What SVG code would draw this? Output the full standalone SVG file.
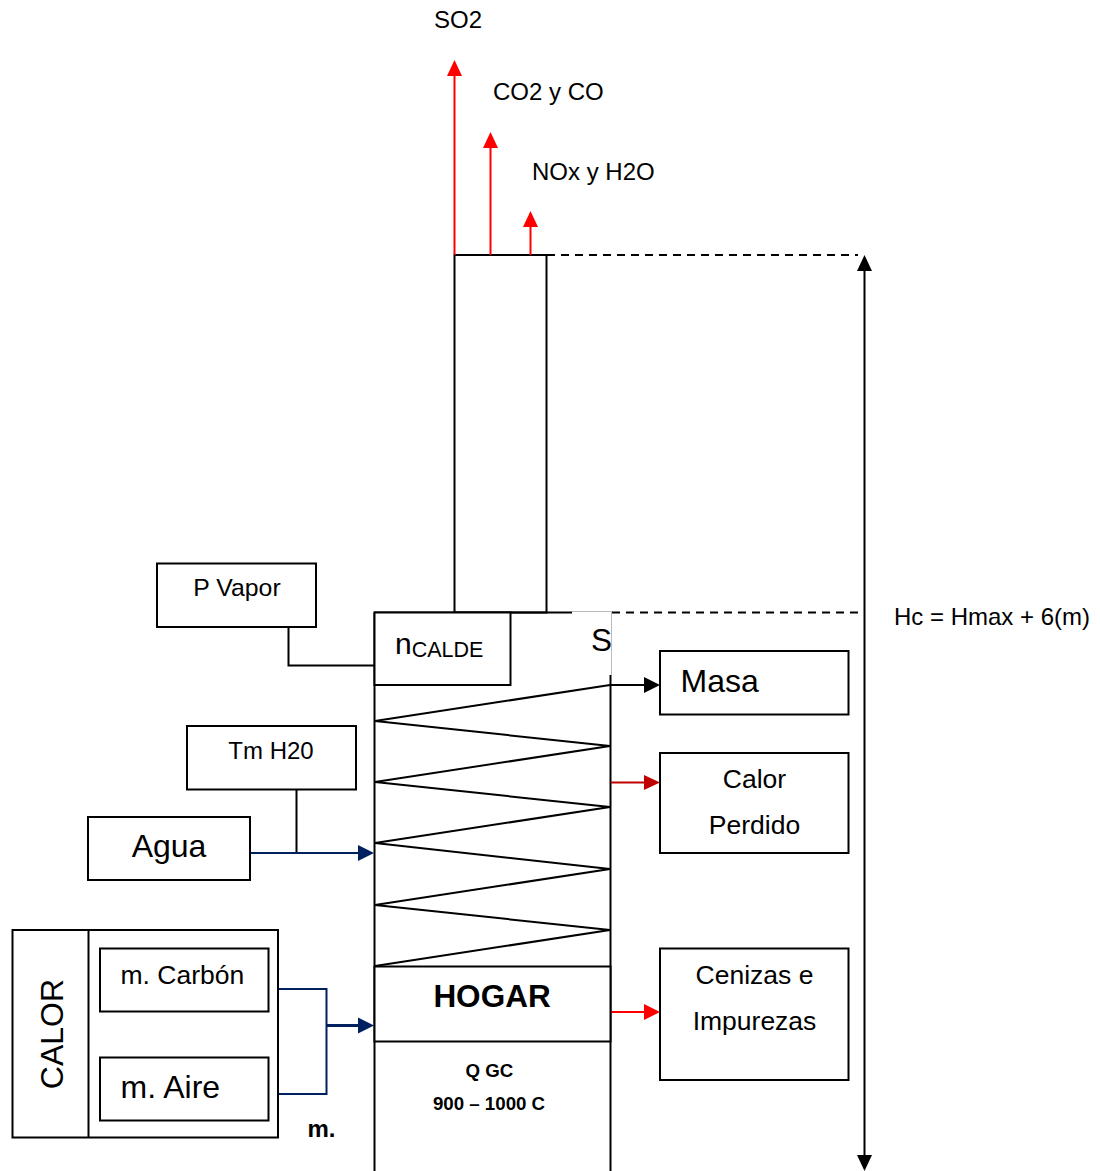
<svg xmlns="http://www.w3.org/2000/svg" width="1100" height="1171" viewBox="0 0 1100 1171">
<style>
text{font-family:"Liberation Sans",Arial,sans-serif;fill:#000}
.b{fill:#fff;stroke:#000;stroke-width:2}
.l{fill:none;stroke:#000;stroke-width:2}
.t{font-size:24px}.u{font-size:26.5px}.m{font-size:32px}
.r{fill:none;stroke:#f00;stroke-width:2}
.n{fill:none;stroke:#002060;stroke-width:2}
.d{fill:none;stroke:#000;stroke-width:2;stroke-dasharray:8 6}
.k{font-weight:bold}
</style>
<rect width="1100" height="1171" fill="#fff"/>
<g id="furnace">
<path class="l" d="M374.500 612.500V1171M610.500 1171V675"/>
<path fill="none" stroke="#bbb" stroke-width="1" d="M572 611.500H611.500V675"/>
</g>
<g id="chimney"><rect class="b" x="454.500" y="255" width="92" height="357.500"/></g>
<g id="top-line"><path class="l" d="M374 612.500H572"/></g>
<g id="coil"><path class="l" d="M610 685L375 721L610 746L375 782L610 807L375 843L610 869L375 905L610 930L375 966"/></g>
<g id="connectors">
<path class="d" d="M547 255H858M612 612.500H864"/>
<path class="l" d="M864.500 262V1160"/>
<path fill="#000" d="M864.500 255L872 271H857ZM864.500 1171L857 1155H872Z"/>
<path class="r" d="M454.500 255V70M490.500 255V144M530.500 255V224"/>
<path fill="#f00" d="M454.500 60L462 76H447ZM490.500 132L498 148H483ZM530.500 211L538 227H523Z"/>
<path class="l" d="M611 685H646"/>
<path fill="#000" d="M660 685L644 677V693Z"/>
<path fill="none" stroke="#c00000" stroke-width="2" d="M611 782.500H646"/>
<path fill="#c00000" d="M660 782.500L644 775V790Z"/>
<path class="r" d="M611 1012H646"/>
<path fill="#f00" d="M660 1012L644 1004V1020Z"/>
<path class="l" d="M288.500 627V665.500H374M296.500 789V853"/>
<path class="n" d="M251 853H360"/>
<path fill="#002060" d="M374 853L358 845V861Z"/>
<path class="n" d="M279 989H326.500V1094H279"/>
<path fill="none" stroke="#002060" stroke-width="3" d="M327 1025.500H360"/>
<path fill="#002060" d="M374 1025.500L358 1017.500V1033.500Z"/>
</g>
<g id="ncalde"><rect class="b" x="374.500" y="612.500" width="136" height="72.500"/><text x="395" y="654" font-size="30">n<tspan font-size="21.500" dy="3">CALDE</tspan></text></g>
<g id="s-label"><text x="591" y="651" font-size="31.500">S</text></g>
<g id="pvapor"><rect class="b" x="157" y="563.500" width="159" height="63.500"/><text x="237" y="596" text-anchor="middle" font-size="24.800">P Vapor</text></g>
<g id="tm"><rect class="b" x="187" y="726" width="169" height="63.500"/><text x="271" y="759" text-anchor="middle" class="t">Tm H20</text></g>
<g id="agua"><rect class="b" x="88" y="817" width="162" height="63"/><text x="169" y="857" text-anchor="middle" class="m">Agua</text></g>
<g id="calor"><rect class="b" x="12.500" y="930" width="265.500" height="207.500"/><path class="l" d="M88.500 930V1137.500"/><text transform="translate(63 1034) rotate(-90)" text-anchor="middle" class="m">CALOR</text></g>
<g id="carbon"><rect class="b" x="100" y="948.500" width="168.500" height="63"/><text x="120.500" y="984" class="u">m. Carbón</text></g>
<g id="aire"><rect class="b" x="100" y="1057.500" width="168.500" height="63"/><text x="120.500" y="1098" class="m">m. Aire</text></g>
<g id="m-label"><text x="307.500" y="1137" class="t k">m.</text></g>
<g id="hogar"><rect class="b" x="374.500" y="966.500" width="236" height="75"/><text x="492" y="1007" text-anchor="middle" font-size="31.500" class="k">HOGAR</text></g>
<g id="qgc"><text x="489.500" y="1077" text-anchor="middle" font-size="18.700" class="k">Q GC</text><text x="489" y="1110" text-anchor="middle" font-size="18.700" class="k">900 – 1000 C</text></g>
<g id="masa"><rect class="b" x="660" y="651" width="188.500" height="63.500"/><text x="680.500" y="692" class="m">Masa</text></g>
<g id="calor-perdido"><rect class="b" x="660" y="753" width="188.500" height="100"/><text x="754.500" y="788" text-anchor="middle" class="u">Calor</text><text x="754.500" y="834" text-anchor="middle" class="u">Perdido</text></g>
<g id="cenizas"><rect class="b" x="660" y="948.500" width="188.500" height="131.500"/><text x="754.500" y="984" text-anchor="middle" class="u">Cenizas e</text><text x="754.500" y="1030" text-anchor="middle" class="u">Impurezas</text></g>
<g id="labels">
<text x="434" y="28" class="t">SO2</text>
<text x="493" y="100" class="t">CO2 y CO</text>
<text x="532" y="180" class="t">NOx y H2O</text>
<text x="894" y="625" class="t">Hc = Hmax + 6(m)</text>
</g>
</svg>
